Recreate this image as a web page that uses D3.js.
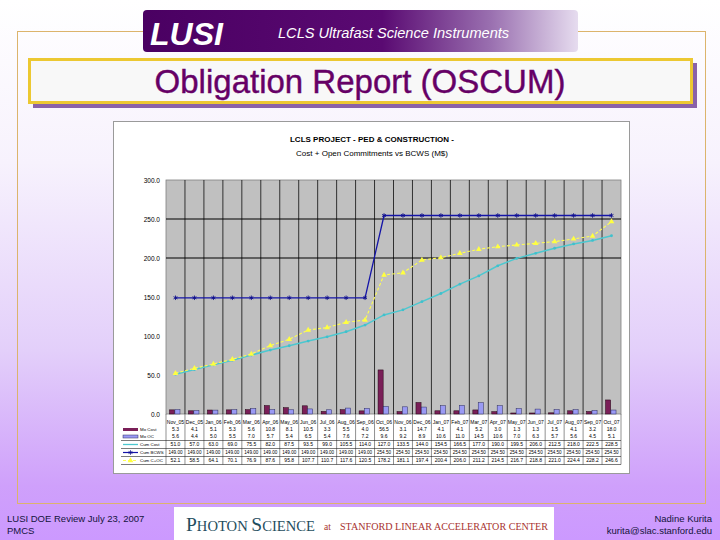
<!DOCTYPE html>
<html>
<head>
<meta charset="utf-8">
<script src="https://cdn.jsdelivr.net/npm/d3@7/dist/d3.min.js"></script>
<style>
  body { margin: 0; padding: 0; }
  svg { display: block; font-family: "Liberation Sans", Arial, sans-serif; }
</style>
</head>
<body>
<div id="chart"></div>
<script>
  // months on the category axis
  let months = ['Nov_05', 'Dec_05', 'Jan_06', 'Feb_06', 'Mar_06', 'Apr_06', 'May_06', 'Jun_06',
    'Jul_06', 'Aug_06', 'Sep_06', 'Oct_06', 'Nov_06', 'Dec_06', 'Jan_07', 'Feb_07',
    'Mar_07', 'Apr_07', 'May_07', 'Jun_07', 'Jul_07', 'Aug_07', 'Sep_07', 'Oct_07'];

  // series (M$)
  let moCost = [5.3, 4.1, 5.1, 5.3, 5.6, 10.8, 8.1, 10.5, 3.3, 5.5, 4.0, 56.5,
    3.1, 14.7, 4.1, 4.1, 5.2, 3.0, 1.3, 1.3, 1.5, 4.1, 3.2, 18.0];
  let moOC = [5.6, 4.4, 5.0, 5.5, 7.0, 5.7, 5.4, 6.5, 5.4, 7.6, 7.2, 9.6,
    9.2, 8.9, 10.6, 11.0, 14.5, 10.6, 7.0, 6.3, 5.7, 5.6, 4.5, 5.1];
  let cumCost = [51.0, 57.0, 63.0, 69.0, 75.5, 82.0, 87.5, 93.5, 99.0, 105.5, 114.0, 127.0,
    133.5, 144.0, 154.5, 166.5, 177.0, 190.0, 199.5, 206.0, 212.5, 218.0, 222.5, 228.5];
  let cumBCWS = [149.0, 149.0, 149.0, 149.0, 149.0, 149.0, 149.0, 149.0, 149.0, 149.0, 149.0, 254.5,
    254.5, 254.5, 254.5, 254.5, 254.5, 254.5, 254.5, 254.5, 254.5, 254.5, 254.5, 254.5];
  let cumCOC = [52.1, 58.5, 64.1, 70.1, 76.9, 87.6, 95.8, 107.7, 110.7, 117.6, 120.5, 178.2,
    181.1, 197.4, 200.4, 206.0, 211.2, 214.5, 216.7, 218.8, 221.0, 224.4, 228.2, 246.6];

  let yTicks = [0, 50, 100, 150, 200, 250, 300];
  let gridTicks = [200, 250];

  let svg = d3.select('#chart').append('svg')
    .attr('width', 720)
    .attr('height', 540);

  let defs = svg.append('defs');

  let bg = defs.append('linearGradient').attr('id', 'bg')
    .attr('x1', 0).attr('y1', 0).attr('x2', 0).attr('y2', 1);
  bg.append('stop').attr('offset', '0').attr('stop-color', '#ffffff');
  bg.append('stop').attr('offset', '0.3').attr('stop-color', '#f7f2fd');
  bg.append('stop').attr('offset', '0.65').attr('stop-color', '#e3cffa');
  bg.append('stop').attr('offset', '0.9').attr('stop-color', '#cfa0fb');
  bg.append('stop').attr('offset', '1').attr('stop-color', '#cc99ff');

  let banner = defs.append('linearGradient').attr('id', 'banner')
    .attr('x1', 0).attr('y1', 0).attr('x2', 1).attr('y2', 0);
  banner.append('stop').attr('offset', '0').attr('stop-color', '#4a0062');
  banner.append('stop').attr('offset', '0.55').attr('stop-color', '#5a0a72');
  banner.append('stop').attr('offset', '0.8').attr('stop-color', '#9a70b0');
  banner.append('stop').attr('offset', '1').attr('stop-color', '#e6dcef');

  // slide background
  svg.append('rect')
    .attr('width', 720).attr('height', 540)
    .attr('fill', 'url(#bg)');

  svg.append('rect')
    .attr('x', 17.5).attr('y', 31.5)
    .attr('width', 688).attr('height', 472)
    .attr('fill', 'none')
    .attr('stroke', '#dcb46c')
    .attr('stroke-width', 1);

  // LUSI banner
  svg.append('rect')
    .attr('x', 143).attr('y', 10)
    .attr('width', 435).attr('height', 42)
    .attr('rx', 4)
    .attr('fill', 'url(#banner)');
  svg.append('text')
    .attr('x', 150).attr('y', 45)
    .attr('fill', '#ffffff')
    .attr('font-size', 32)
    .attr('font-weight', 'bold')
    .attr('font-style', 'italic')
    .attr('font-family', '"Liberation Sans Narrow", "Liberation Sans", sans-serif')
    .text('LUSI');
  svg.append('text')
    .attr('x', 278).attr('y', 38)
    .attr('fill', '#ffffff')
    .attr('font-size', 14.6)
    .attr('font-style', 'italic')
    .text('LCLS Ultrafast Science Instruments');

  // title box
  svg.append('rect')
    .attr('x', 33).attr('y', 63)
    .attr('width', 664).attr('height', 45)
    .attr('fill', '#8a62a8');
  svg.append('rect')
    .attr('x', 29.5).attr('y', 59.5)
    .attr('width', 662).attr('height', 43)
    .attr('fill', '#f8f8f8')
    .attr('stroke', '#ecc832')
    .attr('stroke-width', 3);
  svg.append('text')
    .attr('x', 360).attr('y', 93)
    .attr('text-anchor', 'middle')
    .attr('fill', '#660066')
    .attr('font-size', 33)
    .attr('stroke', '#660066')
    .attr('stroke-width', 0.4)
    .text('Obligation Report (OSCUM)');

  // chart image
  svg.append('rect')
    .attr('x', 113.5).attr('y', 121.5)
    .attr('width', 516).attr('height', 352)
    .attr('fill', '#ffffff')
    .attr('stroke', '#9a9a9a');

  svg.append('text')
    .attr('x', 372).attr('y', 142)
    .attr('text-anchor', 'middle')
    .attr('font-size', 8)
    .attr('font-weight', 'bold')
    .text('LCLS PROJECT - PED & CONSTRUCTION -');
  svg.append('text')
    .attr('x', 372).attr('y', 156)
    .attr('text-anchor', 'middle')
    .attr('font-size', 8)
    .text('Cost + Open Commitments vs BCWS (M$)');

  let margin = { top: 180, right: 99, bottom: 126, left: 166 };
  let plotLeft = margin.left;
  let plotRight = 720 - margin.right;
  let plotTop = margin.top;
  let plotBottom = 540 - margin.bottom;

  let x = d3.scaleBand().domain(months).range([plotLeft, plotRight]);
  let y = d3.scaleLinear().domain([0, 300]).range([plotBottom, plotTop]);
  let pair = d3.scaleBand().domain(['cost', 'oc']).range([3.5, 14]).paddingInner(0.05);

  svg.append('rect')
    .attr('x', plotLeft).attr('y', plotTop)
    .attr('width', plotRight - plotLeft).attr('height', plotBottom - plotTop)
    .attr('fill', '#c0c0c0')
    .attr('stroke', '#808080')
    .attr('stroke-width', 0.8);

  // grid
  svg.append('g')
    .selectAll('line')
    .data(gridTicks)
    .enter()
    .append('line')
    .attr('x1', plotLeft).attr('x2', plotRight)
    .attr('y1', function(d) { return y(d); })
    .attr('y2', function(d) { return y(d); })
    .attr('stroke', '#000')
    .attr('stroke-width', 1);

  svg.append('g')
    .selectAll('line')
    .data(months.slice(1))
    .enter()
    .append('line')
    .attr('x1', function(d) { return x(d); })
    .attr('x2', function(d) { return x(d); })
    .attr('y1', plotTop).attr('y2', plotBottom)
    .attr('stroke', '#000')
    .attr('stroke-width', 0.75);

  // y axis
  let yAxis = svg.append('g')
    .attr('transform', 'translate(' + plotLeft + ',0)')
    .call(d3.axisLeft(y).tickValues(yTicks).tickFormat(d3.format('.1f')).tickSize(0).tickPadding(6));
  yAxis.select('.domain').remove();
  yAxis.selectAll('text')
    .attr('font-size', 6.5)
    .attr('font-family', '"Liberation Sans", Arial, sans-serif')
    .attr('fill', '#000');

  // bars
  let barGroup = svg.append('g');
  barGroup.selectAll('.cost')
    .data(moCost)
    .enter()
    .append('rect')
    .attr('class', 'cost')
    .attr('x', function(d, i) { return x(months[i]) + pair('cost'); })
    .attr('width', pair.bandwidth())
    .attr('y', function(d) { return y(d); })
    .attr('height', function(d) { return y(0) - y(d); })
    .attr('fill', '#7a1f58')
    .attr('stroke', '#200010')
    .attr('stroke-width', 0.5);
  barGroup.selectAll('.oc')
    .data(moOC)
    .enter()
    .append('rect')
    .attr('class', 'oc')
    .attr('x', function(d, i) { return x(months[i]) + pair('oc'); })
    .attr('width', pair.bandwidth())
    .attr('y', function(d) { return y(d); })
    .attr('height', function(d) { return y(0) - y(d); })
    .attr('fill', '#9a9af4')
    .attr('stroke', '#2a2a60')
    .attr('stroke-width', 0.5);

  let cx = function(d, i) { return x(months[i]) + x.bandwidth() / 2; };

  // lines
  let line = d3.line().x(cx).y(function(d) { return y(d); });

  svg.append('path')
    .datum(cumCost)
    .attr('d', line)
    .attr('fill', 'none')
    .attr('stroke', '#4cc8d0')
    .attr('stroke-width', 1.5);
  svg.append('g')
    .selectAll('circle')
    .data(cumCost)
    .enter()
    .append('circle')
    .attr('cx', cx)
    .attr('cy', function(d) { return y(d); })
    .attr('r', 1.4)
    .attr('fill', '#40c0cc');

  svg.append('path')
    .datum(cumCOC)
    .attr('d', line)
    .attr('fill', 'none')
    .attr('stroke', '#ffff50')
    .attr('stroke-width', 1.1)
    .attr('stroke-dasharray', '3,2');
  let tri = d3.symbol().type(d3.symbolTriangle).size(14);
  svg.append('g')
    .selectAll('path')
    .data(cumCOC)
    .enter()
    .append('path')
    .attr('d', tri)
    .attr('transform', function(d, i) { return 'translate(' + cx(d, i) + ',' + y(d) + ')'; })
    .attr('fill', '#ffff40');

  svg.append('path')
    .datum(cumBCWS)
    .attr('d', line)
    .attr('fill', 'none')
    .attr('stroke', '#1414a8')
    .attr('stroke-width', 1.3);
  let star = d3.symbol().type(d3.symbolAsterisk).size(14);
  svg.append('g')
    .selectAll('path')
    .data(cumBCWS)
    .enter()
    .append('path')
    .attr('d', star)
    .attr('transform', function(d, i) { return 'translate(' + cx(d, i) + ',' + y(d) + ')'; })
    .attr('fill', 'none')
    .attr('stroke', '#10108a')
    .attr('stroke-width', 0.9);

  // data table under the plot
  let rowY = [422, 429.5, 436.5, 444.5, 452.5, 460.5];
  let rows = [
    { name: 'Mo Cost', values: moCost, fmt: d3.format('.1f') },
    { name: 'Mo OC', values: moOC, fmt: d3.format('.1f') },
    { name: 'Cum Cost', values: cumCost, fmt: d3.format('.1f') },
    { name: 'Cum BCWS', values: cumBCWS, fmt: d3.format('.2f') },
    { name: 'Cum C+OC', values: cumCOC, fmt: d3.format('.1f') }
  ];

  let table = svg.append('g')
    .attr('font-size', 5)
    .attr('fill', '#000');

  table.selectAll('.cat')
    .data(months)
    .enter()
    .append('text')
    .attr('class', 'cat')
    .attr('x', cx)
    .attr('y', rowY[0] + 1.8)
    .attr('text-anchor', 'middle')
    .text(function(d) { return d; });

  rows.forEach(function(row, r) {
    table.selectAll('.r' + r)
      .data(row.values)
      .enter()
      .append('text')
      .attr('class', 'r' + r)
      .attr('x', cx)
      .attr('y', rowY[r + 1] + 1.8)
      .attr('text-anchor', 'middle')
      .attr('font-size', r === 3 ? 4.6 : 5)
      .text(function(d) { return row.fmt(d); });

    table.append('text')
      .attr('x', 140)
      .attr('y', rowY[r + 1] + 1.6)
      .attr('font-size', 4.4)
      .text(row.name);
  });

  let hLines = [440.5, 448.5, 456.5, 464.5];
  table.selectAll('.hl')
    .data(hLines)
    .enter()
    .append('line')
    .attr('class', 'hl')
    .attr('x1', 121).attr('x2', plotRight)
    .attr('y1', function(d) { return d; })
    .attr('y2', function(d) { return d; })
    .attr('stroke', '#222')
    .attr('stroke-width', 0.6);
  table.selectAll('.vl')
    .data(months)
    .enter()
    .append('line')
    .attr('class', 'vl')
    .attr('x1', function(d) { return x(d); })
    .attr('x2', function(d) { return x(d); })
    .attr('y1', plotBottom).attr('y2', 464.5)
    .attr('stroke', '#222')
    .attr('stroke-width', 0.5);
  table.append('line')
    .attr('x1', plotRight).attr('x2', plotRight)
    .attr('y1', plotBottom).attr('y2', 464.5)
    .attr('stroke', '#222')
    .attr('stroke-width', 0.5);

  // legend keys
  let keyX = 123;
  let keyW = 15;
  table.append('rect')
    .attr('x', keyX).attr('y', rowY[1] - 1.5)
    .attr('width', keyW).attr('height', 3)
    .attr('fill', '#7a1f58');
  table.append('rect')
    .attr('x', keyX).attr('y', rowY[2] - 1.5)
    .attr('width', keyW).attr('height', 3)
    .attr('fill', '#9a9af4')
    .attr('stroke', '#2a2a60')
    .attr('stroke-width', 0.5);
  table.append('line')
    .attr('x1', keyX).attr('x2', keyX + keyW)
    .attr('y1', rowY[3]).attr('y2', rowY[3])
    .attr('stroke', '#4cc8d0').attr('stroke-width', 1.3);
  table.append('line')
    .attr('x1', keyX).attr('x2', keyX + keyW)
    .attr('y1', rowY[4]).attr('y2', rowY[4])
    .attr('stroke', '#1414a8').attr('stroke-width', 1.2);
  table.append('path')
    .attr('d', star)
    .attr('transform', 'translate(' + (keyX + keyW / 2) + ',' + rowY[4] + ')')
    .attr('fill', 'none').attr('stroke', '#10108a').attr('stroke-width', 0.8);
  table.append('line')
    .attr('x1', keyX).attr('x2', keyX + keyW)
    .attr('y1', rowY[5]).attr('y2', rowY[5])
    .attr('stroke', '#ffff50').attr('stroke-width', 1.1)
    .attr('stroke-dasharray', '3,2');
  table.append('path')
    .attr('d', tri)
    .attr('transform', 'translate(' + (keyX + keyW / 2) + ',' + rowY[5] + ')')
    .attr('fill', '#ffff40');

  // footer
  let foot = svg.append('g')
    .attr('font-size', 9.5)
    .attr('fill', '#14143c');
  foot.append('text').attr('x', 7).attr('y', 522).text('LUSI DOE Review July 23, 2007');
  foot.append('text').attr('x', 7).attr('y', 534).text('PMCS');
  foot.append('text').attr('x', 712).attr('y', 522).attr('text-anchor', 'end').text('Nadine Kurita');
  foot.append('text').attr('x', 712).attr('y', 534).attr('text-anchor', 'end').text('kurita@slac.stanford.edu');

  svg.append('rect')
    .attr('x', 174).attr('y', 507)
    .attr('width', 380).attr('height', 33)
    .attr('fill', '#ffffff');
  let ps = svg.append('text')
    .attr('x', 186).attr('y', 531)
    .attr('font-family', '"Liberation Serif", "DejaVu Serif", serif')
    .attr('fill', '#1f4e5e');
  ps.append('tspan').attr('font-size', 19.5).text('P');
  ps.append('tspan').attr('font-size', 14.6).text('HOTON ');
  ps.append('tspan').attr('font-size', 19.5).text('S');
  ps.append('tspan').attr('font-size', 14.6).text('CIENCE');
  svg.append('text')
    .attr('x', 324).attr('y', 530)
    .attr('font-family', '"Liberation Serif", "DejaVu Serif", serif')
    .attr('font-size', 9.5)
    .attr('fill', '#a8322e')
    .text('at');
  svg.append('text')
    .attr('x', 340).attr('y', 530)
    .attr('font-family', '"Liberation Serif", "DejaVu Serif", serif')
    .attr('font-size', 10.1)
    .attr('fill', '#a8322e')
    .text('STANFORD LINEAR ACCELERATOR CENTER');
</script>
</body>
</html>
